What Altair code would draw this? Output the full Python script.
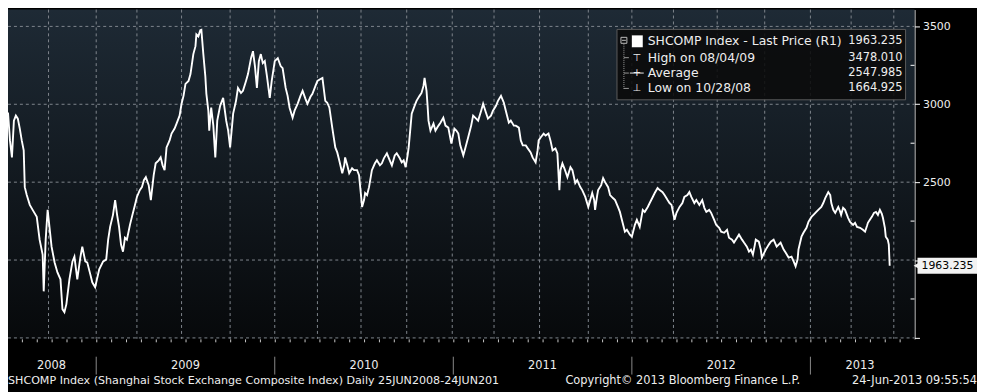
import altair as alt
import pandas as pd

FONT = "DejaVu Sans"

# ---- price series (decimal year, index level) ----
t_2008 = [2008.461, 2008.472, 2008.483, 2008.494, 2008.506, 2008.517, 2008.528, 2008.539, 2008.550, 2008.561,
          2008.572, 2008.583, 2008.594, 2008.600, 2008.611, 2008.628, 2008.644, 2008.667, 2008.683, 2008.700,
          2008.706, 2008.717, 2008.728, 2008.750, 2008.767, 2008.783, 2008.800, 2008.811, 2008.822, 2008.833,
          2008.850, 2008.867, 2008.878, 2008.894, 2008.911, 2008.922, 2008.939, 2008.950, 2008.967, 2008.978,
          2008.994]
p_2008 = [2908, 2799, 2608, 2863, 2946, 2768, 2659, 2895, 2927, 2908,
          2844, 2768, 2704, 2468, 2417, 2354, 2322, 2277, 2131, 2035,
          1799, 2131, 2322, 2086, 1984, 1920, 1876, 1685, 1665, 1717,
          1876, 1991, 2022, 1876, 2016, 2086, 1991, 1984, 1908, 1857,
          1825]

t_2009 = [2009.017, 2009.039, 2009.056, 2009.067, 2009.078, 2009.094, 2009.106, 2009.117, 2009.128, 2009.139,
          2009.150, 2009.161, 2009.172, 2009.189, 2009.200, 2009.217, 2009.228, 2009.244, 2009.256, 2009.267,
          2009.278, 2009.294, 2009.306, 2009.322, 2009.333, 2009.350, 2009.361, 2009.372, 2009.383, 2009.394,
          2009.411, 2009.422, 2009.439, 2009.450, 2009.467, 2009.478, 2009.489, 2009.500, 2009.517, 2009.528,
          2009.544, 2009.556, 2009.561, 2009.572, 2009.583, 2009.589, 2009.600, 2009.611, 2009.617, 2009.628,
          2009.633, 2009.644, 2009.656, 2009.667, 2009.678, 2009.694, 2009.711, 2009.728, 2009.739, 2009.750,
          2009.767, 2009.783, 2009.794, 2009.811, 2009.822, 2009.839, 2009.850, 2009.867, 2009.878, 2009.889,
          2009.900, 2009.911, 2009.922, 2009.933, 2009.944, 2009.956, 2009.972, 2009.983]
p_2009 = [1940, 1991, 2003, 2131, 2213, 2290, 2385, 2290, 2213, 2099,
          2054, 2143, 2131, 2226, 2277, 2354, 2405, 2449, 2468, 2513,
          2532, 2481, 2385, 2545, 2621, 2640, 2659, 2608, 2577, 2723,
          2768, 2812, 2844, 2876, 2927, 3003, 3054, 3131, 3150, 3194,
          3322, 3373, 3449, 3436, 3475, 3478, 3322, 3182, 3067, 2959,
          2831, 2978, 2863, 2659, 2895, 2990, 3041, 2895, 2831, 2723,
          2940, 3022, 3105, 3073, 3086, 3150, 3194, 3296, 3341, 3245,
          3105, 3277, 3322, 3264, 3277, 3182, 3041, 3150]

t_2010 = [2010.000, 2010.017, 2010.033, 2010.044, 2010.061, 2010.072, 2010.083, 2010.100, 2010.111, 2010.128,
          2010.144, 2010.156, 2010.172, 2010.183, 2010.200, 2010.211, 2010.228, 2010.239, 2010.256, 2010.267,
          2010.283, 2010.294, 2010.306, 2010.322, 2010.339, 2010.350, 2010.361, 2010.378, 2010.389, 2010.394,
          2010.406, 2010.417, 2010.433, 2010.444, 2010.461, 2010.472, 2010.483, 2010.489, 2010.500, 2010.506,
          2010.517, 2010.528, 2010.544, 2010.561, 2010.572, 2010.589, 2010.600, 2010.611, 2010.628, 2010.644,
          2010.656, 2010.672, 2010.683, 2010.700, 2010.711, 2010.722, 2010.733, 2010.744, 2010.750, 2010.761,
          2010.767, 2010.783, 2010.794, 2010.811, 2010.822, 2010.833, 2010.839, 2010.850, 2010.856, 2010.861,
          2010.872, 2010.889, 2010.900, 2010.917, 2010.928, 2010.944, 2010.956, 2010.972, 2010.989]
p_2010 = [3277, 3296, 3245, 3232, 3105, 3054, 2978, 2914, 2959, 3003,
          3054, 3086, 3035, 3003, 3048, 3067, 3118, 3150, 3162, 3169,
          3022, 3010, 2978, 2850, 2723, 2691, 2640, 2557, 2608, 2659,
          2608, 2557, 2589, 2577, 2577, 2545, 2417, 2341, 2385, 2430,
          2417, 2468, 2577, 2621, 2640, 2608, 2621, 2653, 2685, 2640,
          2608, 2672, 2685, 2653, 2627, 2640, 2596, 2672, 2723, 2863,
          2940, 2990, 3022, 3054, 3073, 3118, 3169, 3086, 2990, 2895,
          2831, 2876, 2831, 2863, 2882, 2914, 2863, 2850, 2748]

t_2011 = [2011.006, 2011.017, 2011.028, 2011.039, 2011.056, 2011.067, 2011.083, 2011.100, 2011.111, 2011.128,
          2011.139, 2011.156, 2011.167, 2011.183, 2011.194, 2011.211, 2011.222, 2011.239, 2011.250, 2011.267,
          2011.283, 2011.294, 2011.311, 2011.322, 2011.339, 2011.350, 2011.367, 2011.378, 2011.389, 2011.406,
          2011.417, 2011.433, 2011.444, 2011.461, 2011.472, 2011.478, 2011.489, 2011.506, 2011.517, 2011.533,
          2011.544, 2011.556, 2011.572, 2011.583, 2011.594, 2011.600, 2011.611, 2011.622, 2011.639, 2011.656,
          2011.667, 2011.683, 2011.694, 2011.711, 2011.722, 2011.739, 2011.756, 2011.767, 2011.778, 2011.789,
          2011.794, 2011.806, 2011.811, 2011.828, 2011.839, 2011.850, 2011.867, 2011.878, 2011.894, 2011.906,
          2011.922, 2011.933, 2011.944, 2011.961, 2011.972, 2011.989]
p_2011 = [2844, 2831, 2812, 2736, 2672, 2717, 2787, 2863, 2927, 2908,
          2895, 2959, 3003, 2946, 2908, 2927, 2959, 2990, 3022, 3054,
          3010, 2959, 2882, 2895, 2863, 2863, 2850, 2768, 2736, 2736,
          2717, 2691, 2659, 2627, 2704, 2768, 2787, 2812, 2799, 2812,
          2768, 2704, 2717, 2685, 2449, 2577, 2621, 2589, 2532, 2596,
          2577, 2494, 2513, 2468, 2449, 2405, 2341, 2385, 2430, 2385,
          2322, 2417, 2449, 2481, 2526, 2500, 2468, 2417, 2398, 2385,
          2341, 2309, 2258, 2182, 2194, 2163]

t_2012 = [2012.000, 2012.017, 2012.028, 2012.044, 2012.061, 2012.072, 2012.089, 2012.100, 2012.117, 2012.128,
          2012.144, 2012.156, 2012.172, 2012.183, 2012.200, 2012.211, 2012.222, 2012.239, 2012.250, 2012.267,
          2012.283, 2012.294, 2012.311, 2012.322, 2012.333, 2012.350, 2012.361, 2012.378, 2012.394, 2012.406,
          2012.417, 2012.433, 2012.444, 2012.461, 2012.472, 2012.489, 2012.500, 2012.517, 2012.533, 2012.544,
          2012.561, 2012.572, 2012.589, 2012.600, 2012.617, 2012.628, 2012.644, 2012.656, 2012.667, 2012.678,
          2012.689, 2012.694, 2012.711, 2012.722, 2012.728, 2012.739, 2012.750, 2012.767, 2012.778, 2012.794,
          2012.811, 2012.822, 2012.833, 2012.850, 2012.861, 2012.878, 2012.894, 2012.906, 2012.917, 2012.928,
          2012.933, 2012.950, 2012.961, 2012.978, 2012.989]
p_2012 = [2150, 2226, 2258, 2213, 2322, 2309, 2341, 2366, 2405, 2430,
          2462, 2449, 2436, 2417, 2385, 2366, 2354, 2258, 2303, 2341,
          2366, 2405, 2417, 2436, 2405, 2366, 2385, 2354, 2385, 2335,
          2309, 2322, 2303, 2258, 2226, 2207, 2182, 2175, 2194, 2143,
          2131, 2112, 2143, 2163, 2131, 2112, 2086, 2054, 2067, 2035,
          2099, 2131, 2118, 2067, 2016, 2041, 2067, 2099, 2118, 2131,
          2086, 2099, 2112, 2067, 2048, 2016, 2022, 1991, 1959, 2003,
          2067, 2150, 2175, 2207, 2245]

t_2013 = [2013.006, 2013.017, 2013.033, 2013.044, 2013.061, 2013.072, 2013.083, 2013.100, 2013.111, 2013.117,
          2013.128, 2013.139, 2013.156, 2013.167, 2013.172, 2013.183, 2013.194, 2013.211, 2013.222, 2013.239,
          2013.250, 2013.261, 2013.278, 2013.294, 2013.306, 2013.317, 2013.322, 2013.333, 2013.344, 2013.356,
          2013.367, 2013.378, 2013.389, 2013.400, 2013.406, 2013.417, 2013.422, 2013.433, 2013.439, 2013.444]
p_2013 = [2277, 2290, 2309, 2322, 2341, 2366, 2398, 2436, 2417, 2366,
          2322, 2303, 2341, 2309, 2290, 2335, 2322, 2271, 2245, 2226,
          2239, 2213, 2207, 2194, 2182, 2220, 2239, 2258, 2277, 2303,
          2309, 2290, 2322, 2296, 2271, 2207, 2150, 2131, 2099, 1963.235]

# ---- axes / annotations ----
grid_years = [2008.733, 2009.0, 2009.228, 2009.478, 2009.75, 2010.0, 2010.239, 2010.483, 2010.739, 2010.994,
              2011.228, 2011.483, 2011.756, 2012.0, 2012.233, 2012.478, 2012.744, 2013.0, 2013.228, 2013.467]
grid_prices = [1500, 2000, 2500, 3000, 3500]
minor_prices = [1750, 2250, 2750, 3250]
year_labels = ["2008", "2009", "2010", "2011", "2012", "2013"]
year_label_pos = [2008.75, 2009.5, 2010.5, 2011.5, 2012.5, 2013.278]
year_bounds = [2009, 2010, 2011, 2012, 2013]
month_ticks = [y + m / 12 for y in range(2008, 2014) for m in range(12) if 2008.5 <= y + m / 12 <= 2013.56]

legend_labels = ["SHCOMP Index - Last Price (R1)", "High on 08/04/09", "Average", "Low on 10/28/08"]
legend_values = ["1963.235", "3478.010", "2547.985", "1664.925"]
legend_symbols = ["", "\u22a4", "+", "\u22a5"]
last_price = 1963.235

footer_left = "SHCOMP Index (Shanghai Stock Exchange Composite Index)  Daily 25JUN2008-24JUN201"
footer_mid = "Copyright\u00a9 2013 Bloomberg Finance L.P."
footer_right = "24-Jun-2013 09:55:54"

# ---- layout ----
W, H = 914, 332
X_DOMAIN = [2008.506, 2013.583]
Y_DOMAIN = [1494, 3608]
GRID = "#80868d"
TXT = "#eeeeee"

df = pd.DataFrame({
    "t": t_2008 + t_2009 + t_2010 + t_2011 + t_2012 + t_2013,
    "v": p_2008 + p_2009 + p_2010 + p_2011 + p_2012 + p_2013,
})

x_enc = alt.X("t:Q", scale=alt.Scale(domain=X_DOMAIN, nice=False, zero=False),
              axis=alt.Axis(values=month_ticks, labels=False, grid=False, domain=False,
                            tickColor="#c8c8c8", tickSize=3, title=None))
# the 2000 label sits under the last-price tag in the original, so it is blanked
y_enc = alt.Y("v:Q", scale=alt.Scale(domain=Y_DOMAIN, nice=False, zero=False),
              axis=alt.Axis(orient="right", values=grid_prices, format="d",
                            labelExpr="(datum.value == 1500 || datum.value == 2000) ? '' : datum.label",
                            grid=False, domainColor="white", tickColor="white", tickSize=5,
                            labelColor=TXT, labelFont=FONT, labelFontSize=11, labelPadding=3,
                            title=None))

one = pd.DataFrame({"a": [0]})

bg = alt.Chart(one).mark_rect(
    fill=alt.Gradient(gradient="linear",
                      stops=[alt.GradientStop(color="#1e2a35", offset=0),
                             alt.GradientStop(color="#07090b", offset=1)],
                      x1=0, x2=0, y1=0, y2=1)
).encode(x=alt.value(0), x2=alt.value(W), y=alt.value(0), y2=alt.value(H))

hgrid = alt.Chart(pd.DataFrame({"v": grid_prices})).mark_rule(
    strokeDash=[3, 3], color=GRID, strokeWidth=1
).encode(y=y_enc, x=alt.value(0), x2=alt.value(W))

vgrid = alt.Chart(pd.DataFrame({"t": grid_years})).mark_rule(
    strokeDash=[3, 3], color=GRID, strokeWidth=1
).encode(x=x_enc, y=alt.value(0), y2=alt.value(H))

line = alt.Chart(df).mark_line(color="white", strokeWidth=1.9, clip=True).encode(x=x_enc, y=y_enc)

minor = alt.Chart(pd.DataFrame({"v": minor_prices})).mark_rule(color="white").encode(
    y=y_enc, x=alt.value(910), x2=alt.value(914))

# legend box
leg_df = pd.DataFrame({"label": legend_labels, "value": legend_values,
                       "sym": legend_symbols, "py": [32, 48.5, 64, 79.5]})
leg_box = alt.Chart(one).mark_rect(fill="#0a0a0a", fillOpacity=0.88, stroke="#5c5c5c", strokeWidth=1).encode(
    x=alt.value(614), x2=alt.value(905), y=alt.value(20), y2=alt.value(91))
py_enc = alt.Y("py:Q", scale=None, axis=None)
leg_text = alt.Chart(leg_df).mark_text(align="left", baseline="middle", font=FONT, fontSize=12.5, color=TXT).encode(
    x=alt.value(645), y=py_enc, text="label:N")
leg_vals = alt.Chart(leg_df).mark_text(align="right", baseline="middle", font=FONT, fontSize=11.5, color=TXT).encode(
    x=alt.value(902), y=py_enc, text="value:N")
leg_sym = alt.Chart(leg_df).mark_text(align="center", baseline="middle", font=FONT, fontSize=10, color=TXT).encode(
    x=alt.value(634), y=py_enc, text="sym:N")
leg_avg_bar = alt.Chart(one).mark_rule(color=TXT).encode(
    x=alt.value(627), x2=alt.value(641), y=alt.value(64))
leg_square = alt.Chart(one).mark_rect(fill="white").encode(
    x=alt.value(629), x2=alt.value(640), y=alt.value(26), y2=alt.value(38))
leg_minus = alt.Chart(one).mark_rect(fill=None, stroke="#bdbdbd", strokeWidth=1).encode(
    x=alt.value(618), x2=alt.value(624), y=alt.value(28), y2=alt.value(34))
leg_minus2 = alt.Chart(one).mark_rule(color="#bdbdbd").encode(
    x=alt.value(619), x2=alt.value(623), y=alt.value(31))
leg_tree = alt.Chart(one).mark_rule(color="#9a9a9a", strokeDash=[1, 1]).encode(
    x=alt.value(621), y=alt.value(35), y2=alt.value(80))
leg_stubs = alt.Chart(leg_df.iloc[1:]).mark_rule(color="#9a9a9a").encode(
    x=alt.value(621), x2=alt.value(626), y=py_enc)

# last price tag
last_df = pd.DataFrame({"v": [last_price], "label": [f"{last_price:.3f}"]})
tag_rect = alt.Chart(last_df).mark_rect(fill="#f2f2f2", yOffset=-8, y2Offset=8).encode(
    x=alt.value(917), x2=alt.value(977), y=y_enc, y2=alt.Y2("v"))
tag_tri = alt.Chart(last_df).mark_point(shape="triangle-left", filled=True, color="#f2f2f2", size=45, opacity=1).encode(
    x=alt.value(916), y=y_enc)
tag_text = alt.Chart(last_df).mark_text(align="left", baseline="middle", font=FONT, fontSize=11, color="black").encode(
    x=alt.value(921), y=y_enc, text="label:N")

# bottom band
yl = alt.Chart(pd.DataFrame({"t": year_label_pos, "label": year_labels})).mark_text(
    baseline="middle", font=FONT, fontSize=11.5, color=TXT).encode(x=x_enc, y=alt.value(359), text="label:N")
ysep = alt.Chart(pd.DataFrame({"t": year_bounds})).mark_rule(color="#8a8a8a").encode(
    x=x_enc, y=alt.value(350), y2=alt.value(368))
f1 = alt.Chart(one).mark_text(align="left", baseline="middle", font=FONT, fontSize=11.2, color=TXT, text=footer_left).encode(
    x=alt.value(0), y=alt.value(375))
f2 = alt.Chart(one).mark_text(align="left", baseline="middle", font=FONT, fontSize=11.5, color=TXT, text=footer_mid).encode(
    x=alt.value(562), y=alt.value(375))
f3 = alt.Chart(one).mark_text(align="right", baseline="middle", font=FONT, fontSize=11.5, color=TXT, text=footer_right).encode(
    x=alt.value(977), y=alt.value(375))

chart = alt.layer(
    bg, hgrid, vgrid, line, minor,
    leg_box, leg_square, leg_minus, leg_minus2, leg_tree, leg_stubs, leg_avg_bar, leg_text, leg_vals, leg_sym,
    tag_tri, tag_rect, tag_text,
    yl, ysep, f1, f2, f3,
).properties(
    width=W, height=H,
    autosize=alt.AutoSizeParams(type="none"),
    padding={"left": 0, "top": 0, "right": 63, "bottom": 52},
).configure(background="#000000").configure_view(stroke=None)

chart.save("out.html", embed_options={"renderer": "svg", "actions": False})
